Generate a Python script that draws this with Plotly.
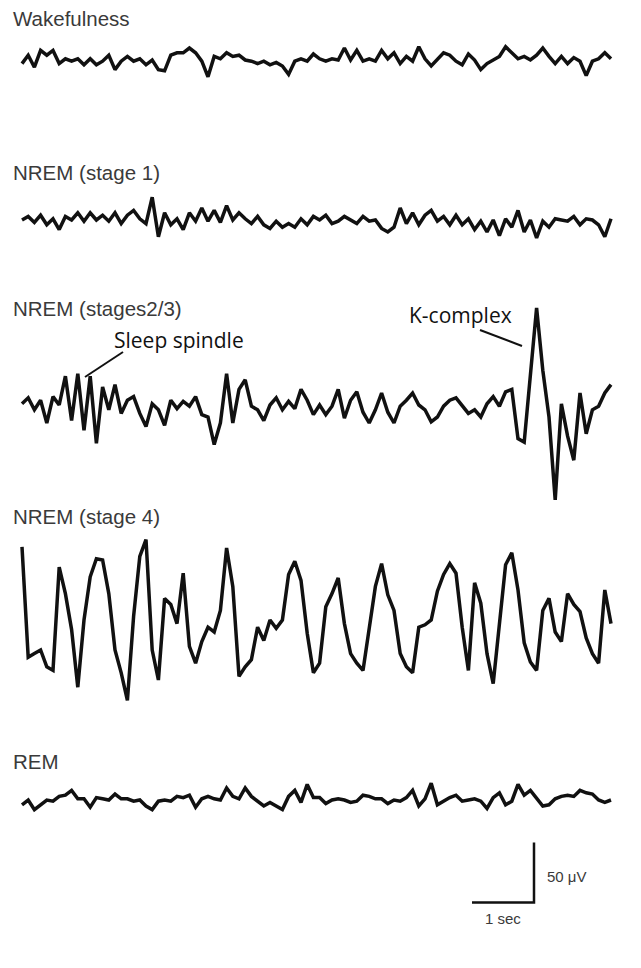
import numpy as np
import plotly.graph_objects as go

# ---------------- data ----------------
DT = 0.1  # seconds between samples
STAGE_LABELS = ["Wakefulness", "NREM (stage 1)", "NREM (stages2/3)", "NREM (stage 4)", "REM"]

wake_uv = [-3, 4, -6, 8, 4, 8, -3, 1, -1, 1, -4, 1, -4, -1, 4, -8, -1, 3, -1, 1,
           -4, 0, -8, -9, 4, 6, 6, 10, 6, -1, -14, 3, 1, 6, 3, 4, 0, -1, -3, -1,
           -4, -2, -5, -12, -1, 1, -1, 5, 1,
           -1, 1, 0, 10, 0, 8, -1, 1, -1, 8, 1, 6, -3, 3, -1, 11, 1, -5, 0, 6,
           4, -1, -4, 5, 0, -8, -3, 0, 3, 11, 6, 1, 3, 0, 4, 10, 3, -3, 3, -3,
           2, -1, -13, -1, 1, 6, 1]

nrem1_uv = [0, 3, -2, 4, -4, 1, -8, 3, 0, 6, -1, 6, 0, 4, -1, 6, -3, 4, 8, 1,
            -3, 19, -14, 6, -4, 1, -8, 6, -1, 10, -1, 8, -2, 12, 0, 6, 1, -3, 3, -4,
            -7, -1, -6, -3, -6, 1, -4, 3, 0,
            4, -3, -1, 3, 0, -3, 3, -1, 0, -7, -10, -6, 10, -3, 6, -4, 4, 8, -1, 3,
            -4, 4, -4, 1, -8, -1, -10, 0, -13, 1, -6, 8, -10, 0, -15, -1, -6, 1, 0, -1,
            3, -4, 1, 0, -4, -14, 1]

nrem23_uv = [1, 6, -4, 4, -15, 7, 0, 24, -13, 26, -21, 24, -32, 15, -4, 17, -7, 4, 7, -7,
             -18, 1, -4, -17, 4, -3, 3, -1, 7, -8, -10, -33, -15, 26, -15, 13, 21, -1, -4, -13,
             0, 6, -4, 3, -3, 13, 4, -8, 0,
             -8, -1, 13, -11, 4, 11, -6, -15, -4, 10, -6, -15, -1, 4, 10, 0, -4, -14, -10, -1,
             4, 6, -1, -7, -4, -10, 1, 7, -1, 11, 13, -28, -31, 26, 81, 29, -10, -79, 1, -26,
             -46, 10, -24, -4, -1, 10, 17]

nrem4_uv = [61, -31, -28, -25, -39, -42, 44, 22, -8, -56, 0, 36, 51, 50, 22, -25, -44, -67, 3, 53,
            67, -25, -50, 18, 13, -3, 39, -22, -36, -18, -6, -10, 8, 60, 28, -47, -39, -33, -6, -17,
            0, -7, 0, 38, 49, 33, -11, -44, -36,
            11, 22, 35, -3, -28, -36, -42, -7, 28, 47, 21, 8, -28, -39, -44, -6, -4, 0, 24, 38,
            47, 39, -6, -42, 31, 14, -28, -53, -6, 46, 56, 25, -19, -35, -42, 8, 18, -10, -18, 22,
            13, 7, -15, -28, -36, 25, -3]

rem_uv = [-4, 0, -8, -4, 0, -1, 3, 4, 8, 1, 1, -6, 2, 1, 0, 5, 1, 1, -1, 0,
          -5, -8, -1, 0, -1, 3, 2, 4, -6, 1, 3, 1, 0, 10, 3, 1, 10, 3, -1, -5,
          -2, -5, -8, 3, 8, -2, 13, 2, 2,
          -3, 0, 1, 0, -2, -1, 4, 3, 1, 1, -3, 0, -1, 2, 8, -5, 1, 14, -4, -1,
          2, 4, -1, 0, 1, -1, -7, 2, 6, -4, -1, 13, 4, 8, 1, -5, -4, 1, 3, 4,
          3, 8, 6, 5, 0, -2, 0]

SERIES = [wake_uv, nrem1_uv, nrem23_uv, nrem4_uv, rem_uv]

SCALE_SEC = 1
SCALE_UV = 50
SCALE_LABELS = ["1 sec", "50 μV"]
EVENT_LABELS = ["Sleep spindle", "K-complex"]

# ---------------- layout ----------------
PAGE_W, PAGE_H = 641, 968
BODY_MARGIN = 8            # default page margin around the plot div
W, H = PAGE_W - BODY_MARGIN, PAGE_H - BODY_MARGIN
PX_PER_SEC = 62.0
PX_PER_UV = 1.2
X0_PX = 22                 # page x where the traces start
BASELINE_PX = [60, 220, 405, 620, 800]
LABEL_PX_Y = [18, 172, 308, 516, 761]


def tx(px):
    """page pixel x -> seconds"""
    return (px - X0_PX) / PX_PER_SEC


def ty(py):
    """page pixel y -> microvolts"""
    return -py / PX_PER_UV


LINE = dict(color="#111111", width=3.5)
fig = go.Figure()

for vals, base in zip(SERIES, BASELINE_PX):
    v = np.asarray(vals, dtype=float)
    t = np.arange(len(v)) * DT
    fig.add_trace(go.Scatter(x=t, y=v + ty(base), mode="lines", line=LINE,
                             hoverinfo="skip", showlegend=False))

# scale bar (1 s x 50 uV)
sx, sy = tx(534), ty(902.5)
fig.add_trace(go.Scatter(x=[sx - SCALE_SEC, sx, sx], y=[sy, sy, sy + SCALE_UV],
                         mode="lines", line=dict(color="#111111", width=2.5),
                         hoverinfo="skip", showlegend=False))

LABEL_FONT = dict(family="Liberation Sans, Arial", size=20.5, color="#3a3a3a")
SMALL_FONT = dict(family="Liberation Sans, Arial", size=15, color="#3a3a3a")
EVENT_FONT = dict(family="Open Sans", size=21, color="#111111")

annotations = []
for lab, py in zip(STAGE_LABELS, LABEL_PX_Y):
    annotations.append(dict(x=tx(11), y=ty(py), xref="x", yref="y", text=lab,
                            showarrow=False, xanchor="left", yanchor="middle",
                            font=LABEL_FONT))

annotations.append(dict(x=sx - SCALE_SEC / 2, y=ty(918), xref="x", yref="y", text=SCALE_LABELS[0],
                        showarrow=False, xanchor="center", yanchor="middle", font=SMALL_FONT))
annotations.append(dict(x=tx(545), y=sy + SCALE_UV / 2 - 3, xref="x", yref="y", text=SCALE_LABELS[1],
                        showarrow=False, xanchor="left", yanchor="middle", font=SMALL_FONT))

annotations.append(dict(x=tx(179), y=ty(340), xref="x", yref="y", text=EVENT_LABELS[0],
                        showarrow=False, xanchor="center", yanchor="middle", font=EVENT_FONT))
annotations.append(dict(x=tx(460), y=ty(315), xref="x", yref="y", text=EVENT_LABELS[1],
                        showarrow=False, xanchor="center", yanchor="middle", font=EVENT_FONT))

shapes = [
    dict(type="line", xref="x", yref="y", x0=tx(123), y0=ty(352), x1=tx(85), y1=ty(377),
         line=dict(color="#111111", width=2)),
    dict(type="line", xref="x", yref="y", x0=tx(480), y0=ty(330), x1=tx(522), y1=ty(346),
         line=dict(color="#111111", width=2)),
]

fig.update_layout(
    width=W, height=H, margin=dict(l=0, r=0, t=0, b=0),
    paper_bgcolor="white", plot_bgcolor="white",
    xaxis=dict(range=[tx(BODY_MARGIN), tx(PAGE_W)], visible=False, fixedrange=True),
    yaxis=dict(range=[ty(PAGE_H), ty(BODY_MARGIN)], visible=False, fixedrange=True),
    annotations=annotations, shapes=shapes, showlegend=False,
)

fig.write_html("out.html", config={"displayModeBar": False})
